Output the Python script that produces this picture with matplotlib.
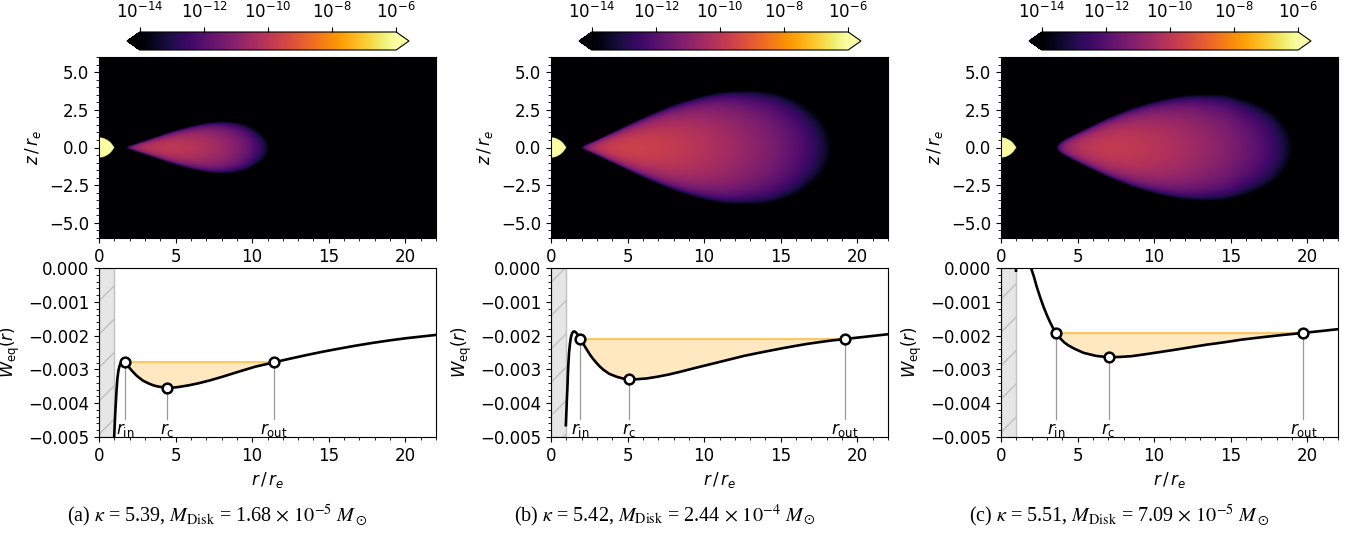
import numpy as np
import matplotlib
matplotlib.use('Agg')
import matplotlib.pyplot as plt
from matplotlib.colors import LogNorm
from matplotlib.ticker import MultipleLocator

plt.rcParams['font.size'] = 12
plt.rcParams['mathtext.fontset'] = 'dejavusans'

# valores
etiquetas = ['a', 'b', 'c']
kappa = ['5.39', '5.42', '5.51']
m_disco = ['1.68', '2.44', '7.09']
m_exp = ['-5', '-4', '-5']

# potencial efectivo en el plano ecuatorial W_eq(r)
r_a = [0.97, 1.00, 1.03, 1.06, 1.09, 1.14, 1.20, 1.27, 1.35, 1.42, 1.50, 1.60, 1.70,
       1.85, 2.00, 2.17, 2.40, 2.60, 2.90, 3.26, 3.60, 3.90, 4.20, 4.46, 4.80, 5.20,
       5.87, 6.50, 7.20, 8.04, 9.10, 10.20, 11.43, 12.50, 13.50, 14.57, 15.50, 16.60,
       17.80, 19.00, 20.00, 21.00, 22.00]
w_a = [-0.00520, -0.00490, -0.00460, -0.00430, -0.00406, -0.00365, -0.00327, -0.00303,
       -0.00288, -0.00281, -0.00278, -0.00277, -0.00279, -0.00287, -0.00296, -0.00305,
       -0.00316, -0.00324, -0.00334, -0.00342, -0.00348, -0.00351, -0.00353, -0.00354,
       -0.00354, -0.00352, -0.00347, -0.00341, -0.00333, -0.00322, -0.00307, -0.00292,
       -0.00279, -0.00268, -0.00258, -0.00248, -0.00240, -0.00231, -0.00222, -0.00214,
       -0.00208, -0.00203, -0.00198]

r_b = [0.97, 1.00, 1.04, 1.07, 1.10, 1.13, 1.18, 1.24, 1.30, 1.37, 1.46, 1.55, 1.64,
       1.78, 1.92, 2.08, 2.22, 2.40, 2.55, 2.75, 2.99, 3.20, 3.42, 3.80, 4.30, 4.70,
       5.08, 5.60, 6.20, 6.91, 7.70, 8.44, 9.30, 10.19, 11.00, 11.80, 12.60, 13.46,
       14.30, 15.10, 15.90, 16.73, 17.50, 18.30, 19.21, 20.00, 21.00, 22.00]
w_b = [-0.00465, -0.00430, -0.00385, -0.00356, -0.00320, -0.00287, -0.00250, -0.00223,
       -0.00205, -0.00194, -0.00188, -0.00188, -0.00191, -0.00199, -0.00210, -0.00222,
       -0.00233, -0.00246, -0.00257, -0.00269, -0.00282, -0.00292, -0.00301, -0.00313,
       -0.00322, -0.00327, -0.00329, -0.00329, -0.00327, -0.00322, -0.00315, -0.00307,
       -0.00297, -0.00287, -0.00278, -0.00269, -0.00260, -0.00252, -0.002445, -0.002375,
       -0.00231, -0.002245, -0.002195, -0.002145, -0.00210, -0.00206, -0.00201, -0.00196]

r_c = [0.98, 1.00, 1.50, 1.80, 1.94, 2.15, 2.33, 2.55, 2.77, 3.00, 3.21, 3.40, 3.58,
       3.80, 4.10, 4.36, 4.80, 5.39, 6.20, 7.02, 7.80, 8.50, 9.30, 10.18, 11.20, 12.30,
       13.40, 14.54, 15.70, 17.00, 18.40, 19.74, 21.00, 22.00]
w_c = [-0.00008, 0.00100, 0.00200, 0.00060, 0.00003, -0.00026, -0.00055, -0.00086,
       -0.00114, -0.00140, -0.00161, -0.00178, -0.00192, -0.00205, -0.00219, -0.00228,
       -0.00239, -0.00251, -0.00260, -0.00264, -0.00263, -0.00261, -0.00256, -0.00250,
       -0.00243, -0.00235, -0.00227, -0.00220, -0.00212, -0.00205, -0.00198, -0.00192,
       -0.00186, -0.00181]

radios = [r_a, r_b, r_c]
potenciales = [w_a, w_b, w_c]

# puntos caracteristicos
r_in = [1.70, 1.92, 3.58]
r_cen = [4.46, 5.08, 7.02]
r_out = [11.43, 19.21, 19.74]
w_sup = [-0.00279, -0.00210, -0.00192]
w_cen = [-0.00354, -0.00329, -0.00264]

# parametros del mapa de densidad
rho_max = [1.1e-10, 2.2e-10, 1.4e-10]
gm = [0.142, 0.137, 0.130]
n_poli = 3.0
rho_estrella = 1e-5

r_grid = (np.arange(880) + 0.5) * 22 / 880
z_grid = (np.arange(480) + 0.5) * 12 / 480 - 6


def mapa_densidad(i):
    """densidad del disco (politropo) y de la estrella en el plano r-z"""
    R, Z = np.meshgrid(r_grid, z_grid)
    weq = np.interp(R, radios[i], potenciales[i])
    w = weq + gm[i] * (1 / R - 1 / np.sqrt(R**2 + Z**2))
    d = (w_sup[i] - w) / (w_sup[i] - w_cen[i])
    rho = rho_max[i] * np.clip(d, 0, None) ** n_poli
    rho[(R < r_in[i]) | (R > r_out[i])] = 0

    # estrella con forma de Roche a rotacion critica
    s = np.clip(R / np.sqrt(R**2 + Z**2), 1e-6, 1)
    r_sup = 2 / s * np.cos((np.pi + np.arccos(s)) / 3)
    rho[np.sqrt(R**2 + Z**2) < r_sup] = rho_estrella
    return np.maximum(rho, 1e-20)


fig = plt.figure(figsize=(13.51, 5.37), dpi=100)
W, H = 1351, 537
izq = [99, 551, 1001]
norm = LogNorm(1e-14, 1e-6)

for i in range(3):
    x0 = izq[i] / W
    ancho = 337 / W

    ax1 = fig.add_axes([x0, 1 - 238 / H, ancho, 181 / H])
    im = ax1.imshow(mapa_densidad(i), extent=[0, 22, -6, 6], origin='lower',
                    cmap='inferno', norm=norm, aspect='auto', interpolation='bilinear')
    ax1.set_xlim(0, 22)
    ax1.set_ylim(-6, 6)
    ax1.set_yticks([-5, -2.5, 0, 2.5, 5])
    ax1.xaxis.set_major_locator(MultipleLocator(5))
    ax1.xaxis.set_minor_locator(MultipleLocator(1))
    ax1.yaxis.set_minor_locator(MultipleLocator(0.5))
    ax1.set_ylabel(r'$z\,/\,r_e$')

    cax = fig.add_axes([(izq[i] + 28) / W, 1 - 50 / H, 282 / W, 18 / H])
    cb = fig.colorbar(im, cax=cax, orientation='horizontal', extend='both')
    cb.set_ticks([1e-14, 1e-12, 1e-10, 1e-8, 1e-6])
    cb.ax.minorticks_off()
    cb.ax.xaxis.set_ticks_position('top')
    cb.ax.xaxis.set_label_position('top')

    ax2 = fig.add_axes([x0, 1 - 437 / H, ancho, 169 / H])
    ax2.axvspan(0, 1, facecolor='#e6e6e6', edgecolor='#c0c0c0', hatch='/', lw=1.0)

    rr = np.array(radios[i])
    ww = np.array(potenciales[i])
    dentro = (rr >= r_in[i]) & (rr <= r_out[i])
    ax2.fill_between(rr[dentro], ww[dentro], w_sup[i], color='orange', alpha=0.25, lw=0)
    ax2.plot([r_in[i], r_out[i]], [w_sup[i], w_sup[i]], color='orange', alpha=0.6, lw=1.5)
    ax2.plot(rr, ww, color='black', lw=1.9)

    puntos = [(r_in[i], w_sup[i], r'$r_\mathrm{in}$'),
              (r_cen[i], w_cen[i], r'$r_\mathrm{c}$'),
              (r_out[i], w_sup[i], r'$r_\mathrm{out}$')]
    for r, w, txt in puntos:
        ax2.plot([r, r], [w, -0.00446], color='0.6', lw=0.9)
        ax2.text(r, -0.0048, txt, ha='center', va='center')
    ax2.plot([p[0] for p in puntos], [p[1] for p in puntos], 'o', mfc='white',
             mec='black', ms=7, mew=1.8, zorder=5)

    ax2.set_xlim(0, 22)
    ax2.set_ylim(-0.005, 0)
    ax2.xaxis.set_major_locator(MultipleLocator(5))
    ax2.xaxis.set_minor_locator(MultipleLocator(1))
    ax2.yaxis.set_major_locator(MultipleLocator(0.001))
    ax2.yaxis.set_minor_locator(MultipleLocator(0.0002))
    ax2.set_xlabel(r'$r\,/\,r_e$')
    ax2.set_ylabel(r'$W_\mathrm{eq}(r)$')

centros = [217, 665, 1119]
for i in range(3):
    texto = (f'({etiquetas[i]}) ' + r'$\kappa$' + f' = {kappa[i]}, ' + r'$M_\mathrm{Disk}$'
             + f' = {m_disco[i]} ' + r'$\times$ $10^{' + m_exp[i] + r'}$ $M_\odot$')
    fig.text(centros[i] / W, 1 - 516 / H, texto, ha='center', va='center',
             family='Liberation Serif', math_fontfamily='stix', fontsize=14.5)

fig.savefig('out.png', dpi=100)
